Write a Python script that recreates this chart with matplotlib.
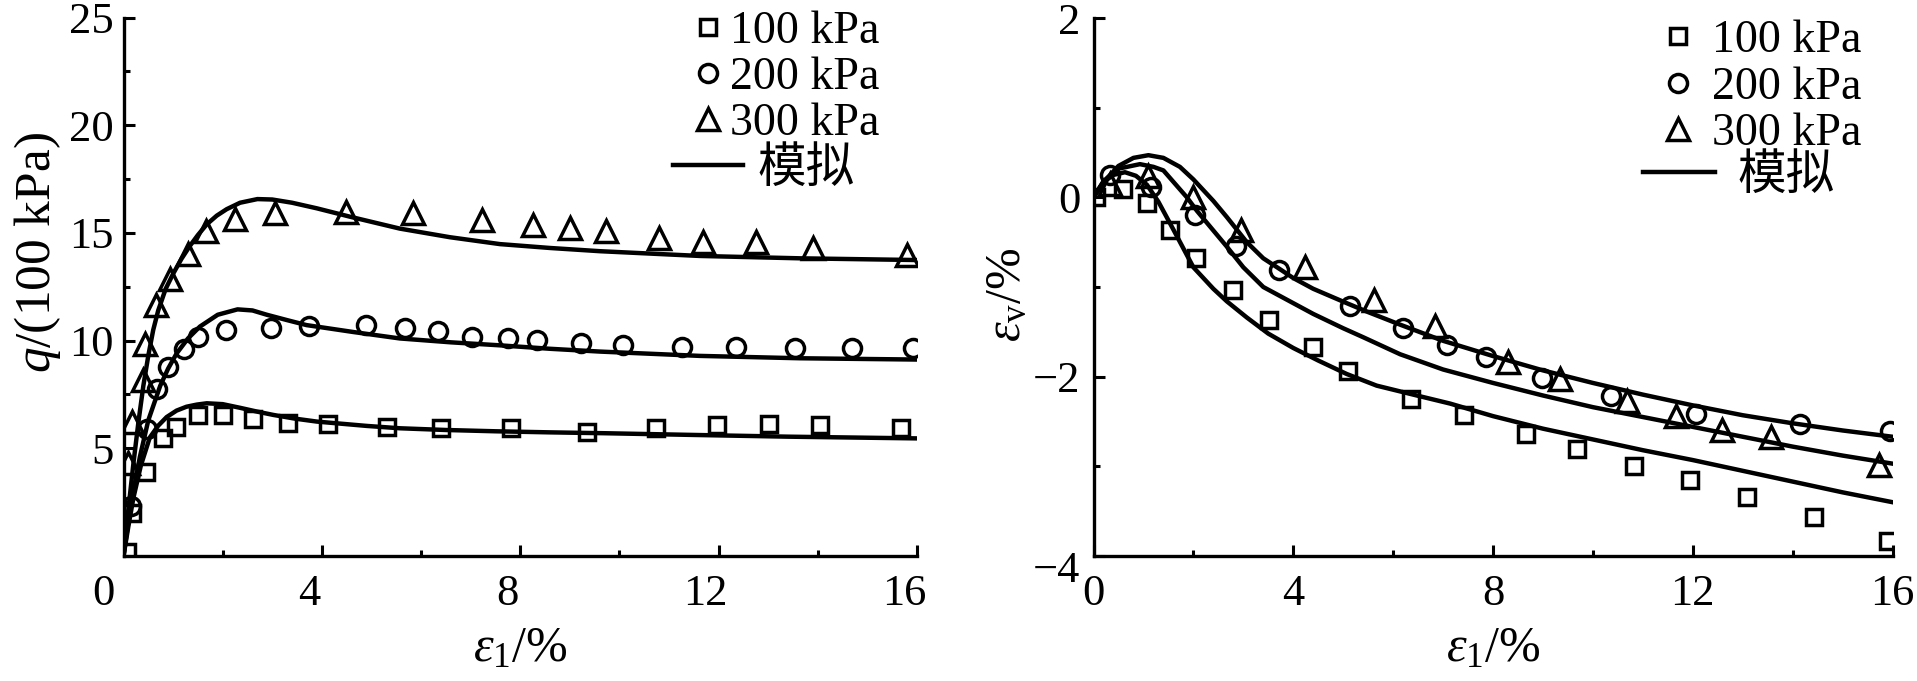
import matplotlib
matplotlib.use("Agg")
import matplotlib.pyplot as plt
from matplotlib.lines import Line2D
from matplotlib.ticker import MultipleLocator
from matplotlib.transforms import ScaledTranslation

plt.rcParams["font.family"] = ["Liberation Serif", "Noto Sans CJK SC"]
plt.rcParams["mathtext.fontset"] = "custom"
plt.rcParams["mathtext.rm"] = "Liberation Serif"
plt.rcParams["mathtext.it"] = "Liberation Serif:italic"
plt.rcParams["mathtext.bf"] = "Liberation Serif:bold"

W, H = 1917, 681

LABELS = ["100 kPa", "200 kPa", "300 kPa"]
SIM_LABEL = "模拟"

# left panel: deviator stress q/(100 kPa) vs axial strain
Q100_X = [0.07, 0.17, 0.45, 0.80, 1.05, 1.51, 2.01, 2.62, 3.32, 4.13, 5.32, 6.41, 7.82, 9.34, 10.74, 11.96, 13.02, 14.04, 15.68]
Q100_Y = [0.2, 2.0, 3.9, 5.5, 6.0, 6.55, 6.55, 6.35, 6.16, 6.13, 5.98, 5.93, 5.93, 5.77, 5.93, 6.08, 6.13, 6.08, 5.93]
Q200_X = [0.15, 0.47, 0.67, 0.90, 1.21, 1.50, 2.07, 2.97, 3.75, 4.88, 5.68, 6.35, 7.03, 7.76, 8.33, 9.23, 10.08, 11.27, 12.35, 13.54, 14.68, 15.92]
Q200_Y = [2.3, 5.88, 7.75, 8.79, 9.62, 10.18, 10.49, 10.57, 10.67, 10.72, 10.57, 10.45, 10.18, 10.1, 10.03, 9.87, 9.8, 9.72, 9.68, 9.64, 9.64, 9.64]
Q300_X = [0.1, 0.165, 0.39, 0.44, 0.65, 0.93, 1.31, 1.67, 2.25, 3.05, 4.48, 5.84, 7.22, 8.25, 9.0, 9.73, 10.8, 11.68, 12.76, 13.9, 15.8]
Q300_Y = [4.3, 6.24, 8.17, 9.83, 11.65, 12.87, 14.0, 15.08, 15.63, 15.94, 15.96, 15.93, 15.6, 15.37, 15.21, 15.1, 14.75, 14.59, 14.56, 14.28, 13.97]

SQ100_X = [0, 0.1, 0.2, 0.35, 0.53, 0.7, 0.87, 1.07, 1.27, 1.48, 1.68, 2.0, 2.35, 2.7, 3.02, 3.45, 3.9, 4.9, 5.57, 6.5, 7.5, 8.6, 9.7, 11.5, 13.4, 16.0]
SQ100_Y = [0, 1.4, 2.7, 4.2, 5.5, 6.05, 6.45, 6.75, 6.93, 7.03, 7.09, 7.05, 6.88, 6.7, 6.55, 6.38, 6.24, 6.04, 5.93, 5.85, 5.79, 5.74, 5.7, 5.62, 5.54, 5.46]
SQ200_X = [0, 0.1, 0.2, 0.33, 0.5, 0.74, 0.9, 1.07, 1.3, 1.54, 1.9, 2.3, 2.6, 2.89, 3.3, 3.69, 4.63, 5.57, 6.6, 7.59, 8.6, 9.61, 11.62, 13.64, 16.0]
SQ200_Y = [0, 1.6, 3.0, 4.6, 6.3, 7.9, 8.7, 9.4, 10.1, 10.65, 11.2, 11.45, 11.4, 11.2, 10.95, 10.72, 10.4, 10.1, 9.92, 9.78, 9.62, 9.49, 9.29, 9.18, 9.12]
SQ300_X = [0, 0.1, 0.2, 0.3, 0.4, 0.5, 0.6, 0.7, 0.85, 1.0, 1.17, 1.34, 1.5, 1.68, 1.88, 2.08, 2.35, 2.7, 3.0, 3.4, 3.9, 4.57, 5.57, 6.58, 7.59, 8.6, 9.61, 11.62, 13.64, 16.0]
SQ300_Y = [0, 2.2, 4.3, 6.2, 7.9, 9.3, 10.5, 11.4, 12.4, 13.1, 13.8, 14.4, 14.9, 15.4, 15.8, 16.1, 16.4, 16.57, 16.55, 16.4, 16.14, 15.75, 15.2, 14.8, 14.48, 14.3, 14.15, 13.93, 13.82, 13.74]

# right panel: volumetric strain vs axial strain
V100_X = [0.06, 0.6, 1.07, 1.54, 2.05, 2.79, 3.52, 4.4, 5.1, 6.35, 7.42, 8.67, 9.68, 10.82, 11.95, 13.08, 14.43, 15.9]
V100_Y = [0.0, 0.09, -0.06, -0.36, -0.68, -1.03, -1.37, -1.67, -1.94, -2.25, -2.43, -2.64, -2.81, -3.0, -3.15, -3.34, -3.56, -3.83]
V200_X = [0.33, 1.15, 2.03, 2.86, 3.71, 5.13, 6.2, 7.08, 7.85, 8.98, 10.36, 12.07, 14.15, 15.94]
V200_Y = [0.25, 0.12, -0.2, -0.54, -0.81, -1.21, -1.46, -1.65, -1.78, -2.02, -2.22, -2.42, -2.53, -2.61]
V300_X = [0.33, 1.1, 2.0, 2.95, 4.24, 5.62, 6.83, 8.3, 9.34, 10.69, 11.67, 12.59, 13.57, 15.72]
V300_Y = [0.15, 0.24, 0.0, -0.36, -0.78, -1.15, -1.44, -1.84, -2.03, -2.27, -2.44, -2.59, -2.67, -2.99]

SV100_X = [0, 0.2, 0.4, 0.63, 0.85, 1.07, 1.3, 1.6, 2.0, 2.4, 2.67, 3.07, 3.5, 4.0, 4.5, 5.07, 5.67, 6.4, 7.14, 8.0, 9.0, 10.0, 11.0, 12.0, 13.0, 14.0, 15.0, 16.0]
SV100_Y = [0, 0.17, 0.25, 0.28, 0.24, 0.14, -0.05, -0.36, -0.78, -1.02, -1.16, -1.34, -1.52, -1.68, -1.82, -1.97, -2.1, -2.2, -2.3, -2.44, -2.58, -2.7, -2.82, -2.93, -3.05, -3.17, -3.29, -3.4]
SV200_X = [0, 0.2, 0.5, 0.8, 1.1, 1.4, 1.73, 2.0, 2.4, 2.67, 3.07, 3.4, 3.73, 4.0, 4.4, 5.07, 5.5, 6.14, 7.0, 8.0, 9.0, 10.0, 11.0, 12.0, 13.0, 14.0, 15.0, 16.0]
SV200_Y = [0, 0.17, 0.35, 0.44, 0.47, 0.44, 0.34, 0.2, -0.04, -0.22, -0.5, -0.68, -0.8, -0.9, -1.02, -1.18, -1.28, -1.42, -1.6, -1.77, -1.93, -2.07, -2.2, -2.32, -2.43, -2.52, -2.6, -2.67]
SV300_X = [0, 0.2, 0.5, 0.93, 1.2, 1.4, 1.87, 2.07, 2.67, 3.0, 3.4, 4.0, 4.4, 5.0, 5.4, 6.14, 7.0, 8.0, 9.0, 10.0, 11.0, 12.0, 13.0, 14.0, 15.0, 16.0]
SV300_Y = [0, 0.18, 0.32, 0.37, 0.34, 0.3, 0.0, -0.15, -0.55, -0.78, -1.0, -1.18, -1.3, -1.46, -1.56, -1.75, -1.92, -2.07, -2.21, -2.34, -2.45, -2.56, -2.67, -2.78, -2.88, -2.97]

MARKERS = [("s", 11.0), ("o", 13.0), ("^", 15.5)]
MEW = 2.5
LW = 3.2
TICK_FS = 32


def fig_xy(x, y):
    """pixel position (from top-left) -> figure fraction"""
    return (x / W, 1 - y / H)


def nudge(fig, label, dx_px, dy_px):
    label.set_transform(label.get_transform()
                        + ScaledTranslation(dx_px / 100, dy_px / 100, fig.dpi_scale_trans))


def style_axes(ax, ypad):
    for s in ["top", "right"]:
        ax.spines[s].set_visible(False)
    for s in ["left", "bottom"]:
        ax.spines[s].set_linewidth(2.4)
    ax.tick_params(which="both", direction="in", width=2.2, labelsize=TICK_FS)
    ax.tick_params(which="major", length=8)
    ax.tick_params(which="minor", length=4.5)
    ax.tick_params(axis="x", which="both", pad=13)
    ax.tick_params(axis="y", which="both", pad=ypad)


def draw_series(ax, exp, sim):
    for (xs, ys), (m, ms) in zip(exp, MARKERS):
        ax.plot(xs, ys, ls="none", marker=m, ms=ms, mfc="none", mec="k", mew=MEW)
    for xs, ys in sim:
        ax.plot(xs, ys, color="k", lw=LW, solid_joinstyle="round")


def add_legends(fig, ax, a_anchor, a_pad, b_anchor, b_len, b_pad):
    handles = [Line2D([], [], ls="none", marker=m, ms=ms, mfc="none", mec="k", mew=MEW)
               for m, ms in MARKERS]
    leg_a = ax.legend(handles, LABELS, loc="center left", bbox_to_anchor=fig_xy(*a_anchor),
                      bbox_transform=fig.transFigure, frameon=False, borderpad=0,
                      borderaxespad=0, handlelength=0.5, handletextpad=a_pad,
                      labelspacing=0.08, prop={"family": "Liberation Serif", "size": 33})
    ax.add_artist(leg_a)
    ax.legend([Line2D([], [], color="k", lw=LW)], [SIM_LABEL], loc="center left",
              bbox_to_anchor=fig_xy(*b_anchor), bbox_transform=fig.transFigure,
              frameon=False, borderpad=0, borderaxespad=0, handlelength=b_len,
              handletextpad=b_pad, prop={"family": "Noto Sans CJK SC", "size": 35})


def main():
    fig = plt.figure(figsize=(W / 100, H / 100), dpi=100)
    ax1 = fig.add_axes([123.5 / W, 1 - 556 / H, 793.5 / W, 538.5 / H])
    ax2 = fig.add_axes([1093.5 / W, 1 - 556 / H, 799 / W, 538 / H])

    # left: q
    draw_series(ax1, [(Q100_X, Q100_Y), (Q200_X, Q200_Y), (Q300_X, Q300_Y)],
                [(SQ100_X, SQ100_Y), (SQ200_X, SQ200_Y), (SQ300_X, SQ300_Y)])
    ax1.set_xlim(0, 16)
    ax1.set_ylim(0, 25)
    ax1.set_xticks([0, 4, 8, 12, 16])
    ax1.xaxis.set_minor_locator(MultipleLocator(2))
    ax1.set_yticks([5, 10, 15, 20, 25])
    ax1.yaxis.set_minor_locator(MultipleLocator(2.5))
    style_axes(ax1, ypad=7)
    ax1.set_xlabel(r"$\varepsilon_1$/%", fontsize=36, ha="center", va="baseline")
    ax1.xaxis.set_label_coords(0.5, (556 - 661) / 538.5)
    ax1.set_ylabel(r"$q$/(100 kPa)", fontsize=37, ha="center", va="center")
    ax1.yaxis.set_label_coords((37.5 - 123.5) / 793.5, (556 - 253) / 538.5)
    for i, lab in enumerate(ax1.get_xticklabels()):
        nudge(fig, lab, -20 if i == 0 else -13, 0)
    add_legends(fig, ax1, (696.5, 78), 0.23, (673, 168), 1.44, 0.29)

    # right: volumetric strain
    draw_series(ax2, [(V100_X, V100_Y), (V200_X, V200_Y), (V300_X, V300_Y)],
                [(SV100_X, SV100_Y), (SV200_X, SV200_Y), (SV300_X, SV300_Y)])
    ax2.set_xlim(0, 16)
    ax2.set_ylim(-4, 2)
    ax2.set_xticks([0, 4, 8, 12, 16])
    ax2.xaxis.set_minor_locator(MultipleLocator(2))
    ax2.set_yticks([-4, -2, 0, 2])
    ax2.yaxis.set_minor_locator(MultipleLocator(1))
    style_axes(ax2, ypad=9.5)
    ax2.set_xlabel(r"$\varepsilon_1$/%", fontsize=36, ha="center", va="baseline")
    ax2.xaxis.set_label_coords(0.5, (556 - 661) / 538)
    ax2.set_ylabel(r"$\varepsilon_\mathrm{v}$/%", fontsize=36, ha="center", va="center")
    ax2.yaxis.set_label_coords((1008 - 1093.5) / 799, (556 - 295) / 538)
    # lowest y label sits a little below the corner in the original
    nudge(fig, ax2.get_yticklabels()[0], 0, -10)
    add_legends(fig, ax2, (1666.8, 87.3), 0.48, (1643.3, 175), 1.48, 0.45)

    fig.savefig("out.png", dpi=100)
    plt.close(fig)


if __name__ == "__main__":
    main()
